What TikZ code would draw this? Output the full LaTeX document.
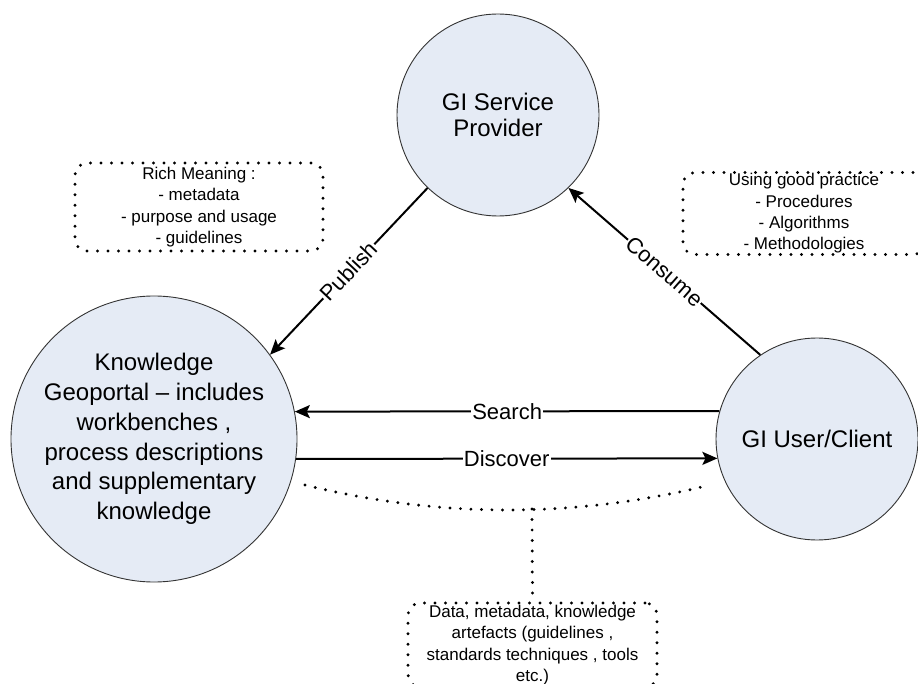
\documentclass[tikz,border=0pt]{standalone}
\usepackage{fontspec}
\setmainfont{Liberation Sans}
\usetikzlibrary{arrows.meta}
\definecolor{circfill}{HTML}{E5EBF5}
\definecolor{circline}{HTML}{333333}
\begin{document}
\begin{tikzpicture}[x=1pt,y=1pt,
  circ/.style={circle, draw=circline, line width=0.9pt, fill=circfill, align=center, inner sep=0pt},
  conn/.style={line width=2pt, -{Stealth[length=15pt,width=13pt,inset=3pt]}},
  elabel/.style={fill=white, inner sep=1pt, font=\fontsize{22}{26}\selectfont},
  dotline/.style={line width=3.2pt, line cap=round, dash pattern=on 0pt off 10.5pt},
  notebox/.style={draw, dotline, rounded corners=12pt, align=center, inner sep=0pt, font=\fontsize{17}{21.3}\selectfont}
]
\useasboundingbox (0,0) rectangle (918,-684);
\clip (0,0) rectangle (918,-684);
\fill[white] (0,0) rectangle (918,-684);

\node[circ, minimum size=202pt, font=\fontsize{24}{26.7}\selectfont] (prov) at (498,-115) {GI Service\\Provider};
\node[circ, minimum size=286pt, font=\fontsize{24}{29.7}\selectfont] (geo) at (154,-439) {Knowledge\\Geoportal – includes\\workbenches ,\\process descriptions\\and supplementary\\knowledge};
\node[circ, minimum size=202pt, font=\fontsize{24}{29}\selectfont] (user) at (817,-439) {GI User/Client};

\node[notebox, minimum width=248pt, minimum height=88pt] (rich) at (199,-207) {Rich Meaning :\\- metadata\\- purpose and usage\\- guidelines};
\node[notebox, minimum width=242pt, minimum height=82pt] (good) at (804,-213.5) {Using good practice\\- Procedures\\- Algorithms\\- Methodologies};
\node[notebox, minimum width=249pt, minimum height=84pt] (data) at (532.5,-645) {Data, metadata, knowledge\\artefacts (guidelines ,\\standards techniques , tools\\etc.)};

\draw[conn] (prov.226) -- node[elabel, sloped]{Publish} (geo.36);
\draw[conn] (user.124) -- node[elabel, sloped]{Consume} (prov.314);
\draw[conn] (user.164) -- node[elabel]{Search} (geo.11);
\draw[conn] (geo.-8) -- node[elabel]{Discover} (user.191);

\coordinate (cl) at (305,-485);
\coordinate (cr) at (710,-485);
\coordinate (cm) at (532,-509);
\draw[dotline] (cl) .. controls (440,-518.3) and (575,-518.3) .. (cr);
\draw[dotline] (cm) -- (data.north);
\end{tikzpicture}
\end{document}
